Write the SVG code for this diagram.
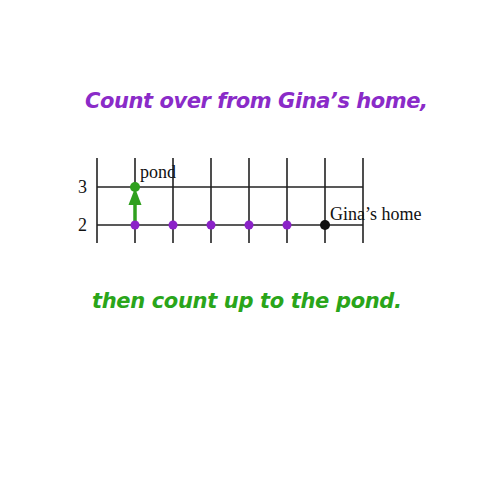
<svg xmlns="http://www.w3.org/2000/svg" width="500" height="500" viewBox="0 0 500 500">
<style>
.grid{stroke:#222;stroke-width:1.6;fill:none}
.lbl{font-family:"Liberation Serif",serif;font-size:18px;fill:#111}
.cap{font-family:"DejaVu Sans",sans-serif;font-weight:bold;font-style:italic;font-size:21px}
.pdot{fill:#8b22c8}
</style>
<rect width="500" height="500" fill="#fff"/>
<text id="title" class="cap" x="85" y="108" fill="#8a2bc8" textLength="343">Count over from Gina’s home,</text>
<g id="grid">
<g class="grid">
<line x1="97" y1="158" x2="97" y2="243"/>
<line x1="135" y1="158" x2="135" y2="243"/>
<line x1="173" y1="158" x2="173" y2="243"/>
<line x1="211" y1="158" x2="211" y2="243"/>
<line x1="249" y1="158" x2="249" y2="243"/>
<line x1="287" y1="158" x2="287" y2="243"/>
<line x1="325" y1="158" x2="325" y2="243"/>
<line x1="363" y1="158" x2="363" y2="243"/>
<line x1="97" y1="187" x2="363" y2="187"/>
<line x1="97" y1="225" x2="363" y2="225"/>
</g>
<text class="lbl" x="78" y="193">3</text>
<text class="lbl" x="78" y="231">2</text>
</g>
<g id="connectors">
<line x1="135" y1="225" x2="135" y2="200" stroke="#2fa01e" stroke-width="3.5"/>
<polygon points="135,188 141.5,205 128.5,205" fill="#2fa01e"/>
</g>
<g id="dots">
<circle class="pdot" cx="135" cy="225" r="4.5"/>
<circle class="pdot" cx="173" cy="225" r="4.5"/>
<circle class="pdot" cx="211" cy="225" r="4.5"/>
<circle class="pdot" cx="249" cy="225" r="4.5"/>
<circle class="pdot" cx="287" cy="225" r="4.5"/>
</g>
<g id="home">
<circle cx="325" cy="225" r="5" fill="#111"/>
<text class="lbl" x="330" y="220">Gina’s home</text>
</g>
<g id="pond">
<circle cx="135" cy="187" r="5" fill="#2fa01e"/>
<text class="lbl" x="140" y="178">pond</text>
</g>
<text id="subtitle" class="cap" x="92" y="308" fill="#2aa51a" textLength="310">then count up to the pond.</text>
</svg>
